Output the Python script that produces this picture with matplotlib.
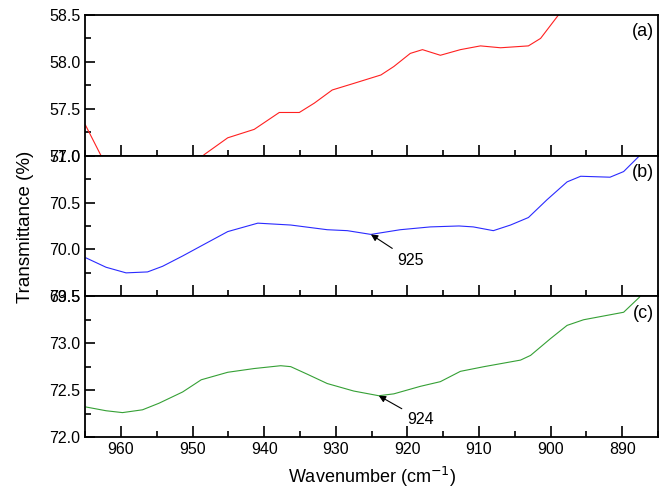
import matplotlib.pyplot as plt
from matplotlib.ticker import MultipleLocator

plt.rcParams['font.family'] = ['Liberation Sans', 'DejaVu Sans']

# panel (a), red
wn_a = [965, 962.8, 960, 955, 950, 948.4, 945.1, 941.4, 937.9, 935.1, 933.0, 930.5, 927.5,
        923.7, 921.9, 919.6, 917.9, 915.4, 912.6, 909.8, 907.0, 903.1, 901.4, 898.9,
        895, 890, 885]
tr_a = [57.33, 57.0, 56.8, 56.65, 56.88, 57.01, 57.19, 57.28, 57.46, 57.46, 57.56, 57.70, 57.77,
        57.86, 57.95, 58.09, 58.13, 58.07, 58.13, 58.17, 58.15, 58.17, 58.25, 58.5,
        58.8, 59.1, 59.4]

# panel (b), blue
wn_b = [964.9, 962.1, 959.3, 956.3, 954.2, 951.4, 948.5, 945.1, 940.9, 936.3, 931.2, 928.4,
        925.1, 921.0, 916.8, 912.8, 910.8, 908.0, 905.6, 903.1, 900.5, 897.7, 895.8,
        891.7, 889.8, 887.7, 885]
tr_b = [69.91, 69.81, 69.75, 69.76, 69.82, 69.93, 70.05, 70.19, 70.28, 70.26, 70.21, 70.20,
        70.16, 70.21, 70.24, 70.25, 70.24, 70.20, 70.26, 70.34, 70.53, 70.72, 70.78,
        70.77, 70.83, 70.99, 71.3]

# panel (c), green
wn_c = [964.9, 962.1, 959.8, 957.0, 954.7, 951.4, 948.8, 945.1, 941.4, 937.7, 936.3, 934.0,
        931.2, 927.5, 924.0, 921.9, 918.2, 915.4, 912.6, 909.3, 904.2, 902.8, 900.0,
        897.7, 895.4, 891.2, 889.8, 887.6, 885]
tr_c = [72.32, 72.28, 72.26, 72.29, 72.36, 72.48, 72.61, 72.69, 72.73, 72.76, 72.75, 72.67,
        72.57, 72.49, 72.44, 72.46, 72.54, 72.59, 72.70, 72.75, 72.82, 72.87, 73.05,
        73.19, 73.25, 73.31, 73.33, 73.49, 73.8]

ylims = [(57.0, 58.5), (69.5, 71.0), (72.0, 73.5)]
colors = ['#ff2020', '#2a2aff', '#35a035']
tags = ['(a)', '(b)', '(c)']

fig, axes = plt.subplots(3, 1, sharex=True, figsize=(6.66, 4.98), dpi=100)
fig.subplots_adjust(left=0.128, right=0.988, top=0.970, bottom=0.1225, hspace=0)

for ax, wn, tr, yl, c, tag in zip(axes, [wn_a, wn_b, wn_c], [tr_a, tr_b, tr_c], ylims, colors, tags):
    ax.plot(wn, tr, color=c, lw=0.8)
    ax.set_ylim(*yl)
    ax.set_xlim(965, 885)
    ax.yaxis.set_major_locator(MultipleLocator(0.5))
    ax.yaxis.set_minor_locator(MultipleLocator(0.25))
    ax.xaxis.set_major_locator(MultipleLocator(10))
    ax.xaxis.set_minor_locator(MultipleLocator(5))
    ax.tick_params(which='both', direction='in', top=False, right=False, labelsize=11.5, width=1.2)
    ax.tick_params(which='major', length=7)
    ax.tick_params(which='minor', length=4)
    ax.tick_params(axis='x', which='major', length=8)
    ax.yaxis.set_major_formatter(plt.FormatStrFormatter('%.1f'))
    for s in ax.spines.values():
        s.set_linewidth(1.3)
    ax.text(0.993, 0.94, tag, transform=ax.transAxes, ha='right', va='top', fontsize=13)

axes[1].annotate('925', xy=(925.1, 70.16), xytext=(919.6, 69.885), fontsize=11.5,
                 ha='center', va='center',
                 arrowprops=dict(arrowstyle='-|>', color='black', lw=0.8, shrinkB=0,
                                 mutation_scale=10))
axes[2].annotate('924', xy=(924.0, 72.44), xytext=(918.2, 72.19), fontsize=11.5,
                 ha='center', va='center',
                 arrowprops=dict(arrowstyle='-|>', color='black', lw=0.8, shrinkB=0,
                                 mutation_scale=10))

axes[2].set_xlabel('Wavenumber (cm$^{-1}$)', fontsize=13, labelpad=6)
fig.text(0.038, 0.544, 'Transmittance (%)', rotation=90, ha='center', va='center', fontsize=13.5)

plt.savefig('out.png', dpi=100)
